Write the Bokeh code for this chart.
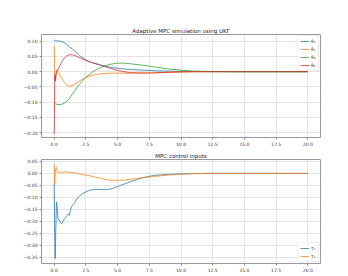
from bokeh.plotting import figure
from bokeh.layouts import column
from bokeh.models import FixedTicker, Range1d, Legend
from bokeh.embed import file_html
from bokeh.resources import INLINE

# ---- data ----
t_top = [0, 0.05, 0.1, 0.15, 0.2, 0.3, 0.45, 0.6, 0.8, 1.0, 1.2, 1.5, 1.8, 2.1, 2.5,
         3.0, 3.5, 4.0, 4.5, 5.0, 5.5, 6.0, 7, 8, 9, 10, 11, 12, 14, 16, 18, 20]
theta1 = [0.102, 0.102, 0.102, 0.101, 0.101, 0.101, 0.100, 0.099, 0.095, 0.089, 0.082, 0.072, 0.061, 0.050, 0.038,
          0.029, 0.023, 0.018, 0.014, 0.011, 0.009, 0.007, 0.005, 0.003, 0.002, 0.001, 0.0005, 0, 0, 0, 0, 0]
theta1_dot = [0.084, -0.010, -0.030, -0.005, 0.006, 0.002, -0.010, -0.022, -0.035, -0.044, -0.048, -0.044, -0.036, -0.028, -0.019,
              -0.012, -0.008, -0.006, -0.005, -0.005, -0.005, -0.005, -0.004, -0.003, -0.002, -0.001, -0.0005, 0, 0, 0, 0, 0]
theta2 = [-0.105, -0.105, -0.106, -0.106, -0.107, -0.108, -0.108, -0.107, -0.103, -0.097, -0.088, -0.070, -0.052, -0.036, -0.018,
          -0.002, 0.011, 0.019, 0.025, 0.028, 0.028, 0.026, 0.021, 0.015, 0.009, 0.005, 0.002, 0.001, 0, 0, 0, 0]
theta2_dot = [-0.205, -0.010, -0.030, -0.008, 0.0, 0.008, 0.020, 0.032, 0.044, 0.052, 0.056, 0.055, 0.050, 0.044, 0.037,
              0.030, 0.024, 0.017, 0.010, 0.004, 0.0, -0.003, -0.005, -0.004, -0.002, -0.001, 0, 0, 0, 0, 0, 0]
top_labels = ["θ\u2081", "θ\u0307\u2081", "θ\u2082", "θ\u0307\u2082"]

t_bot = [0, 0.03, 0.08, 0.12, 0.18, 0.22, 0.3,
         0.4, 0.5, 0.6, 0.7, 0.8, 0.9, 1.0, 1.1, 1.2, 1.3, 1.4, 1.5, 1.6,
         1.8, 2.0, 2.2, 2.5, 2.8, 3.2, 3.6, 4.0, 4.4,
         5.0, 5.5, 6.0, 6.5, 7.0, 7.5, 8.0,
         9, 10, 11, 12, 14, 16, 18, 20]
u1 = [-0.04, -0.2, -0.355, -0.25, -0.12, -0.13, -0.19,
      -0.195, -0.205, -0.21, -0.2, -0.19, -0.185, -0.175, -0.17, -0.175, -0.15, -0.135, -0.13, -0.125,
      -0.105, -0.095, -0.085, -0.077, -0.07, -0.067, -0.067, -0.068, -0.066,
      -0.055, -0.045, -0.035, -0.026, -0.018, -0.012, -0.008,
      -0.004, -0.002, -0.001, 0, 0, 0, 0, 0]
u2 = [0.04, -0.045, 0.0, 0.02, 0.025, 0.01, 0.003,
      0.005, 0.003, 0.006, 0.004, 0.006, 0.004, 0.007, 0.004, 0.005, 0.003, 0.005, 0.002, 0.003,
      0.0, -0.002, -0.004, -0.007, -0.010, -0.015, -0.020, -0.025, -0.028,
      -0.029, -0.028, -0.025, -0.021, -0.018, -0.015, -0.012,
      -0.007, -0.003, -0.001, 0, 0, 0, 0, 0]
bot_labels = ["τ\u2081", "τ\u2082"]

x_ticks = [0, 2.5, 5, 7.5, 10, 12.5, 15, 17.5, 20]
top_y_ticks = [-0.20, -0.15, -0.10, -0.05, 0.0, 0.05, 0.10]
bot_y_ticks = [-0.35, -0.30, -0.25, -0.20, -0.15, -0.10, -0.05, 0.0, 0.05]
colors = ["#1f77b4", "#ff7f0e", "#2ca02c", "#d62728"]

FONT = "DejaVu Sans"


def fmt(v, nd):
    s = f"{v:.{nd}f}"
    return s.replace("-", "\u2212")


def make_fig(title, height, btop, bbot, frame_h, yr, yticks):
    p = figure(width=340, height=height, output_backend="svg", toolbar_location=None,
               x_range=Range1d(-1, 21), y_range=Range1d(*yr),
               min_border_left=41, min_border_right=20, min_border_top=btop, min_border_bottom=bbot,
               frame_height=frame_h, frame_width=279)
    p.title.text = title
    p.title.align = "center"
    p.title.text_font = FONT
    p.title.text_font_size = "5.5px"
    p.title.text_font_style = "normal"
    p.title.text_color = "#222222"
    p.title.standoff = 1
    p.xaxis.ticker = FixedTicker(ticks=x_ticks)
    p.xaxis.major_label_overrides = {t: fmt(t, 1) for t in x_ticks}
    p.yaxis.ticker = FixedTicker(ticks=yticks)
    p.yaxis.major_label_overrides = {t: fmt(t, 2) for t in yticks}
    for ax in (p.xaxis, p.yaxis):
        ax.major_label_text_font = FONT
        ax.major_label_text_font_size = "4.5px"
        ax.major_label_text_color = "#333333"
        ax.axis_line_color = None
        ax.major_tick_line_color = "#888888"
        ax.major_tick_out = 2
        ax.major_tick_in = 0
        ax.minor_tick_line_color = None
        ax.major_label_standoff = 2
    p.grid.grid_line_color = "#dddddd"
    p.grid.grid_line_width = 0.8
    p.outline_line_color = "#999999"
    p.outline_line_width = 1
    p.background_fill_color = "white"
    p.border_fill_color = "white"
    return p


p1 = make_fig("Adaptive MPC simulation using UKF", 148, 34, 11, 103, (-0.216, 0.122), top_y_ticks)
items1 = []
for ys, c, lab in zip([theta1, theta1_dot, theta2, theta2_dot], colors, top_labels):
    r = p1.line(t_top, ys, line_color=c, line_width=0.9, line_alpha=0.85)
    items1.append((lab, [r]))
leg1 = Legend(items=items1, location="top_right")
p1.add_layout(leg1)

p2 = make_fig("MPC control inputs", 124, 11, 9, 104, (-0.376, 0.058), bot_y_ticks)
items2 = []
for ys, c, lab in zip([u1, u2], colors[:2], bot_labels):
    r = p2.line(t_bot, ys, line_color=c, line_width=0.9, line_alpha=0.85)
    items2.append((lab, [r]))
leg2 = Legend(items=items2, location="bottom_right")
p2.add_layout(leg2)

for lg in (leg1, leg2):
    lg.label_text_font = FONT
    lg.label_text_font_size = "4.5px"
    lg.label_height = 6
    lg.label_width = 5
    lg.glyph_height = 6
    lg.glyph_width = 9
    lg.spacing = 2
    lg.padding = 2
    lg.margin = 1
    lg.label_standoff = 2
    lg.border_line_color = "#dddddd"
    lg.background_fill_alpha = 0.85

layout = column(p1, p2, spacing=0)
open("out.html", "w").write(file_html(layout, INLINE))
